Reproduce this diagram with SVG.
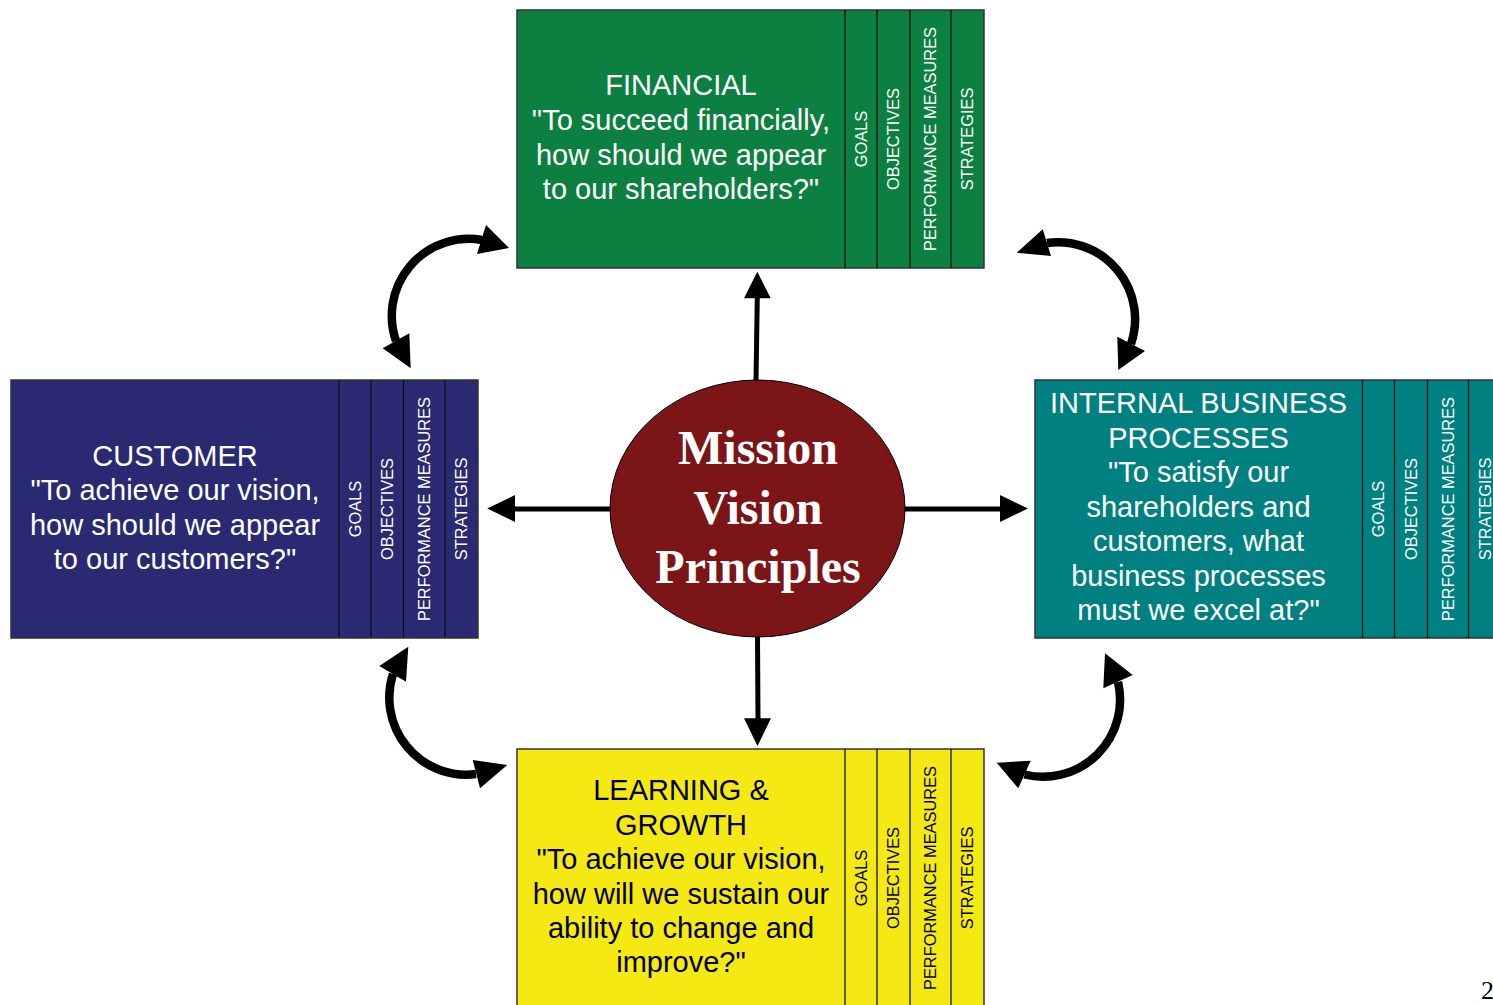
<svg xmlns="http://www.w3.org/2000/svg" width="1493" height="1005" viewBox="0 0 1493 1005">
<style>
.box{stroke:#333;stroke-width:1.5}
.div{stroke:#111;stroke-width:1.3}
.main{font-family:"Liberation Sans",Arial,sans-serif;font-size:29px;text-anchor:middle}
.col{font-family:"Liberation Sans",Arial,sans-serif;font-size:16.4px;text-anchor:middle}
.w{fill:#fff}
.k{fill:#000}
.shaft{stroke:#000;stroke-width:5;fill:none}
.curve{stroke:#000;stroke-width:8.5;fill:none}
.head{fill:#000}
.mvp{font-family:"Liberation Serif","Times New Roman",serif;font-weight:bold;font-size:48px;fill:#fff;text-anchor:middle}
</style>
<rect width="1493" height="1005" fill="#fff"/>

<g id="connectors">
  <line class="shaft" x1="756" y1="381" x2="757.3" y2="296"/>
  <polygon class="head" points="757.3,271.7 744,298.3 770.7,298.3"/>
  <line class="shaft" x1="757.5" y1="636" x2="758" y2="720"/>
  <polygon class="head" points="757.5,746 744,718.3 771,718.3"/>
  <line class="shaft" x1="611" y1="509" x2="513" y2="509"/>
  <polygon class="head" points="487.3,508.5 515,495 515,522"/>
  <line class="shaft" x1="904" y1="509" x2="1002" y2="509"/>
  <polygon class="head" points="1028,508.5 1000,495 1000,522"/>

  <path class="curve" d="M 482 240 A 77 77 0 0 0 396 341"/>
  <polygon class="head" points="509,248 486,225 477,254"/>
  <polygon class="head" points="410.7,368.3 382.7,348.3 409.3,333.3"/>

  <path class="curve" d="M 1047 243 A 77 77 0 0 1 1131 344"/>
  <polygon class="head" points="1016.7,252.7 1042.7,229.3 1051,256"/>
  <polygon class="head" points="1118.3,370 1117.3,336.7 1145,351"/>

  <path class="curve" d="M 393 674 A 77 77 0 0 0 476 774"/>
  <polygon class="head" points="408.3,646.7 379.3,666 406,681.7"/>
  <polygon class="head" points="507.3,765 472.7,760 480,788.3"/>

  <path class="curve" d="M 1118 682 A 77 77 0 0 1 1024.5 774.5"/>
  <polygon class="head" points="1105,653.3 1132.7,675 1103.3,688.3"/>
  <polygon class="head" points="996.7,762.7 1030.7,760.7 1018.3,788.3"/>
</g>

<g id="financial">
  <rect class="box" x="517" y="10" width="467" height="258" fill="#0c8040"/>
  <line class="div" x1="845" y1="10" x2="845" y2="268"/>
  <line class="div" x1="877" y1="10" x2="877" y2="268"/>
  <line class="div" x1="910" y1="10" x2="910" y2="268"/>
  <line class="div" x1="951" y1="10" x2="951" y2="268"/>
  <text class="main w" x="681" y="95">FINANCIAL</text>
  <text class="main w" x="681" y="130">"To succeed financially,</text>
  <text class="main w" x="681" y="165">how should we appear</text>
  <text class="main w" x="681" y="199">to our shareholders?"</text>
  <text class="col w" transform="translate(861,139) rotate(-90)" y="5.8">GOALS</text>
  <text class="col w" transform="translate(893.5,139) rotate(-90)" y="5.8">OBJECTIVES</text>
  <text class="col w" transform="translate(930.5,139) rotate(-90)" y="5.8">PERFORMANCE MEASURES</text>
  <text class="col w" transform="translate(967.5,139) rotate(-90)" y="5.8">STRATEGIES</text>
</g>

<g id="customer">
  <rect class="box" x="11" y="380" width="467" height="258" fill="#2a2a72"/>
  <line class="div" x1="339" y1="380" x2="339" y2="638"/>
  <line class="div" x1="371" y1="380" x2="371" y2="638"/>
  <line class="div" x1="403.5" y1="380" x2="403.5" y2="638"/>
  <line class="div" x1="445" y1="380" x2="445" y2="638"/>
  <text class="main w" x="175" y="466">CUSTOMER</text>
  <text class="main w" x="175" y="500">"To achieve our vision,</text>
  <text class="main w" x="175" y="535">how should we appear</text>
  <text class="main w" x="175" y="569">to our customers?"</text>
  <text class="col w" transform="translate(355,509) rotate(-90)" y="5.8">GOALS</text>
  <text class="col w" transform="translate(387.3,509) rotate(-90)" y="5.8">OBJECTIVES</text>
  <text class="col w" transform="translate(424.3,509) rotate(-90)" y="5.8">PERFORMANCE MEASURES</text>
  <text class="col w" transform="translate(461.5,509) rotate(-90)" y="5.8">STRATEGIES</text>
</g>

<g id="internal">
  <rect class="box" x="1035" y="380" width="467" height="258" fill="#008080"/>
  <line class="div" x1="1362.5" y1="380" x2="1362.5" y2="638"/>
  <line class="div" x1="1394.5" y1="380" x2="1394.5" y2="638"/>
  <line class="div" x1="1427.5" y1="380" x2="1427.5" y2="638"/>
  <line class="div" x1="1468.5" y1="380" x2="1468.5" y2="638"/>
  <text class="main w" x="1198.5" y="413">INTERNAL BUSINESS</text>
  <text class="main w" x="1198.5" y="447.5">PROCESSES</text>
  <text class="main w" x="1198.5" y="482">"To satisfy our</text>
  <text class="main w" x="1198.5" y="516.5">shareholders and</text>
  <text class="main w" x="1198.5" y="551">customers, what</text>
  <text class="main w" x="1198.5" y="585.5">business processes</text>
  <text class="main w" x="1198.5" y="620">must we excel at?"</text>
  <text class="col w" transform="translate(1378.5,509) rotate(-90)" y="5.8">GOALS</text>
  <text class="col w" transform="translate(1411,509) rotate(-90)" y="5.8">OBJECTIVES</text>
  <text class="col w" transform="translate(1448,509) rotate(-90)" y="5.8">PERFORMANCE MEASURES</text>
  <text class="col w" transform="translate(1485,509) rotate(-90)" y="5.8">STRATEGIES</text>
</g>

<g id="learning">
  <rect class="box" x="517" y="749" width="467" height="258" fill="#f5e914"/>
  <line class="div" x1="845" y1="749" x2="845" y2="1007"/>
  <line class="div" x1="877" y1="749" x2="877" y2="1007"/>
  <line class="div" x1="910" y1="749" x2="910" y2="1007"/>
  <line class="div" x1="951" y1="749" x2="951" y2="1007"/>
  <text class="main k" x="681" y="800">LEARNING &amp;</text>
  <text class="main k" x="681" y="834.5">GROWTH</text>
  <text class="main k" x="681" y="869">"To achieve our vision,</text>
  <text class="main k" x="681" y="903.5">how will we sustain our</text>
  <text class="main k" x="681" y="938">ability to change and</text>
  <text class="main k" x="681" y="972">improve?"</text>
  <text class="col k" transform="translate(861,878) rotate(-90)" y="5.8">GOALS</text>
  <text class="col k" transform="translate(893.5,878) rotate(-90)" y="5.8">OBJECTIVES</text>
  <text class="col k" transform="translate(930.5,878) rotate(-90)" y="5.8">PERFORMANCE MEASURES</text>
  <text class="col k" transform="translate(967.5,878) rotate(-90)" y="5.8">STRATEGIES</text>
</g>

<g id="mission">
  <ellipse cx="757.5" cy="508.5" rx="147.5" ry="128.5" fill="#7b1518" stroke="#000" stroke-width="1"/>
  <text class="mvp" x="758" y="464">Mission</text>
  <text class="mvp" x="758" y="524">Vision</text>
  <text class="mvp" x="758" y="583">Principles</text>
</g>

<g id="page-number">
  <text x="1481" y="999" font-family="'Liberation Serif','Times New Roman',serif" font-size="26" fill="#000">2</text>
</g>
</svg>
